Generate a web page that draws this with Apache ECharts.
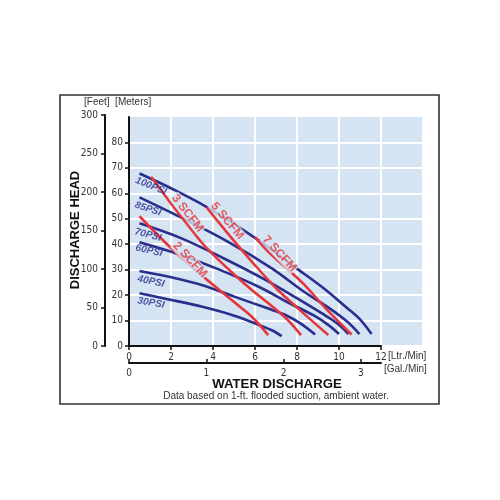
<!DOCTYPE html>
<html>
<head>
<meta charset="utf-8">
<script src="https://cdn.jsdelivr.net/npm/echarts@6/dist/echarts.min.js"></script>
<style>
html,body{margin:0;padding:0;background:#fff;}
#chart{width:500px;height:500px;}
</style>
</head>
<body>
<div id="chart"></div>
<script>
// ---- data (x: Ltr/Min, y: Meters) ----
const ltrTicks = [0, 2, 4, 6, 8, 10, 12];
const galTicks = [0, 1, 2, 3];
const meterTicks = [0, 10, 20, 30, 40, 50, 60, 70, 80];
const feetTicks = [0, 50, 100, 150, 200, 250, 300];

const psiNames = ['100PSI', '85PSI', '70PSI', '60PSI', '40PSI', '30PSI'];
const psi100 = [[0.5,67.8],[2.0,62],[3.7,54.6],[6.0,42.5],[7.9,31],[9.3,22.5],[10.3,15.5],[11.0,10.5],[11.55,4.7]];
const psi85  = [[0.5,58.4],[2.6,50],[4.7,41],[6.8,30.5],[8.3,21.5],[9.6,14.5],[10.4,9.5],[10.97,4.7]];
const psi70  = [[0.5,48.2],[2.5,42.3],[4.5,34.5],[6.5,26],[7.95,19],[9.15,13],[9.95,8.7],[10.44,4.7]];
const psi60  = [[0.5,40.8],[2.4,36],[4.3,30],[6.2,23.2],[7.6,17],[8.8,12],[9.5,8.2],[10.0,4.7]];
const psi40  = [[0.5,29.5],[1.9,27.2],[3.5,23.9],[5.05,19.3],[6.6,14.8],[7.45,12.2],[8.2,8.7],[8.86,4.5]];
const psi30  = [[0.5,20.7],[1.9,18.3],[3.5,15.4],[5.05,11.8],[6.3,7.9],[6.9,5.8],[7.27,3.9]];

const scfmNames = ['2 SCFM', '3 SCFM', '5 SCFM', '7 SCFM'];
const scfm2 = [[0.5,51],[2.0,38.5],[3.5,27.5],[5.05,17],[5.85,11.5],[6.63,4.3]];
const scfm3 = [[1.05,66.5],[2.0,56],[2.9,46.5],[3.7,38.5],[5.5,24.5],[7.4,11.5],[8.19,4.3]];
const scfm5 = [[3.7,54.5],[4.97,41.6],[5.92,32.5],[7.03,22.5],[8.14,14.1],[9.49,4.3]];
const scfm7 = [[6.0,42.8],[6.7,36.5],[7.67,29.3],[8.3,24.5],[9.4,14.5],[10.6,4.5]];

// ---- styles ----
const BLUE = '#2a2e8c';
const RED = '#e5363b';
const PLOT_BG = '#d5e4f3';
const FONT = '"Liberation Sans", Arial, sans-serif';
const NARROW = '"Liberation Sans Narrow", "Arial Narrow", "DejaVu Sans Condensed", "Liberation Sans", sans-serif';

const psiData = [psi100, psi85, psi70, psi60, psi40, psi30];
const psiLabelStyle = [
  {off:[12,13], rot:-22},
  {off:[9,12], rot:-18},
  {off:[9,12], rot:-15},
  {off:[10,9], rot:-13},
  {off:[12,11], rot:-12},
  {off:[12,10], rot:-10}
];
const scfmData = [scfm2, scfm3, scfm5, scfm7];
const scfmLabelStyle = [
  {off:[51,44], rot:-47},
  {off:[37,37], rot:-52},
  {off:[21,14], rot:-50},
  {off:[25,17], rot:-47}
];

const series = [];
psiData.forEach((d, i) => {
  series.push({
    type: 'line', name: psiNames[i], xAxisIndex: 0, yAxisIndex: 0,
    data: d, smooth: 0.35, symbol: 'none',
    lineStyle: {color: BLUE, width: 2.6}, z: 3
  });
});
scfmData.forEach((d, i) => {
  series.push({
    type: 'line', name: scfmNames[i], xAxisIndex: 0, yAxisIndex: 0,
    data: d, smooth: 0.35, symbol: 'none',
    lineStyle: {color: RED, width: 2.6}, z: 4
  });
});
// labels anchored at the first point of each curve
series.push({
  type: 'scatter', xAxisIndex: 0, yAxisIndex: 0, symbolSize: 1, z: 6,
  itemStyle: {color: 'rgba(0,0,0,0)'}, silent: true,
  data: psiData.map((d, i) => ({
    value: d[0],
    label: {
      show: true, formatter: psiNames[i], position: psiLabelStyle[i].off,
      align: 'center', verticalAlign: 'middle', rotate: psiLabelStyle[i].rot,
      color: BLUE, fontSize: 10, fontWeight: 'bold', fontStyle: 'italic', fontFamily: FONT,
      textBorderWidth: 0
    }
  })).concat(scfmData.map((d, i) => ({
    value: d[0],
    label: {
      show: true, formatter: scfmNames[i], position: scfmLabelStyle[i].off,
      align: 'center', verticalAlign: 'middle', rotate: scfmLabelStyle[i].rot,
      color: RED, fontSize: 12, fontWeight: 'bold', fontFamily: FONT,
      backgroundColor: PLOT_BG, padding: [0, 1], textBorderWidth: 0
    }
  })))
});

const axisTextStyle = {color: '#333', fontSize: 10, fontFamily: NARROW};

const option = {
  animation: false,
  backgroundColor: '#ffffff',
  grid: [
    // plotting area (0-14 Ltr/Min, 0-90 m)
    {left: 129, top: 117, width: 294, height: 229, show: true,
     backgroundColor: PLOT_BG, borderWidth: 0},
    // Ltr/Min axis (0-12)
    {left: 129, top: 117, width: 252, height: 229},
    // Gal/Min axis
    {left: 129, top: 117, width: 252, height: 229},
    // Feet axis
    {left: 105, top: 115, width: 10, height: 231}
  ],
  xAxis: [
    {gridIndex: 0, type: 'value', min: 0, max: 14, interval: 2,
     axisLine: {show: false}, axisTick: {show: false}, axisLabel: {show: false},
     splitLine: {show: true, lineStyle: {color: '#ffffff', width: 2}}},
    {gridIndex: 1, type: 'value', min: 0, max: 12, interval: 2, position: 'bottom',
     axisLine: {show: true, onZero: false, lineStyle: {color: '#111', width: 2}},
     axisTick: {show: true, length: 4, lineStyle: {color: '#111', width: 1.5}},
     axisLabel: Object.assign({margin: 6, customValues: ltrTicks}, axisTextStyle),
     splitLine: {show: false}},
    {gridIndex: 2, type: 'value', min: 0, max: 3.26, position: 'bottom', offset: 17,
     axisLine: {show: true, onZero: false, lineStyle: {color: '#111', width: 2}},
     axisTick: {show: true, inside: true, length: 4, customValues: galTicks, lineStyle: {color: '#111', width: 1.5}},
     axisLabel: Object.assign({margin: 5, customValues: galTicks}, axisTextStyle),
     splitLine: {show: false}},
    {gridIndex: 3, type: 'value', min: 0, max: 1, show: false}
  ],
  yAxis: [
    {gridIndex: 0, type: 'value', min: 0, max: 90, interval: 10,
     axisLine: {show: true, onZero: false, lineStyle: {color: '#111', width: 2}},
     axisTick: {show: true, length: 4, customValues: meterTicks, lineStyle: {color: '#111', width: 1.5}},
     axisLabel: Object.assign({margin: 6, customValues: meterTicks}, axisTextStyle),
     splitLine: {show: true, lineStyle: {color: '#ffffff', width: 2}}},
    {gridIndex: 1, type: 'value', min: 0, max: 90, show: false},
    {gridIndex: 2, type: 'value', min: 0, max: 90, show: false},
    {gridIndex: 3, type: 'value', min: 0, max: 300, interval: 50, position: 'left',
     axisLine: {show: true, onZero: false, lineStyle: {color: '#111', width: 2}},
     axisTick: {show: true, length: 4, customValues: feetTicks, lineStyle: {color: '#111', width: 1.5}},
     axisLabel: Object.assign({margin: 7, customValues: feetTicks}, axisTextStyle),
     splitLine: {show: false}}
  ],
  graphic: [
    {type: 'rect', shape: {x: 60, y: 95, width: 379, height: 309},
     style: {fill: 'none', stroke: '#333', lineWidth: 1.6}, z: 100},
    {type: 'text', left: 84, top: 97,
     style: {text: '[Feet]  [Meters]', fill: '#333', font: '10px ' + FONT}},
    {type: 'text', x: 75, y: 230, rotation: Math.PI / 2,
     style: {text: 'DISCHARGE HEAD', fill: '#111', font: 'bold 13px ' + FONT,
             textAlign: 'center', textVerticalAlign: 'middle'}},
    {type: 'text', x: 277, y: 384,
     style: {text: 'WATER DISCHARGE', fill: '#111', font: 'bold 13.2px ' + FONT,
             textAlign: 'center', textVerticalAlign: 'middle'}},
    {type: 'text', x: 276, y: 396,
     style: {text: 'Data based on 1-ft. flooded suction, ambient water.', fill: '#333',
             font: '10px ' + FONT, textAlign: 'center', textVerticalAlign: 'middle'}},
    {type: 'text', x: 388, y: 356,
     style: {text: '[Ltr./Min]', fill: '#333', font: '10px ' + FONT,
             textAlign: 'left', textVerticalAlign: 'middle'}},
    {type: 'text', x: 384, y: 369,
     style: {text: '[Gal./Min]', fill: '#333', font: '10px ' + FONT,
             textAlign: 'left', textVerticalAlign: 'middle'}}
  ],
  series: series
};

const chart = echarts.init(document.getElementById('chart'), null, {renderer: 'canvas'});
chart.setOption(option);
</script>
</body>
</html>
